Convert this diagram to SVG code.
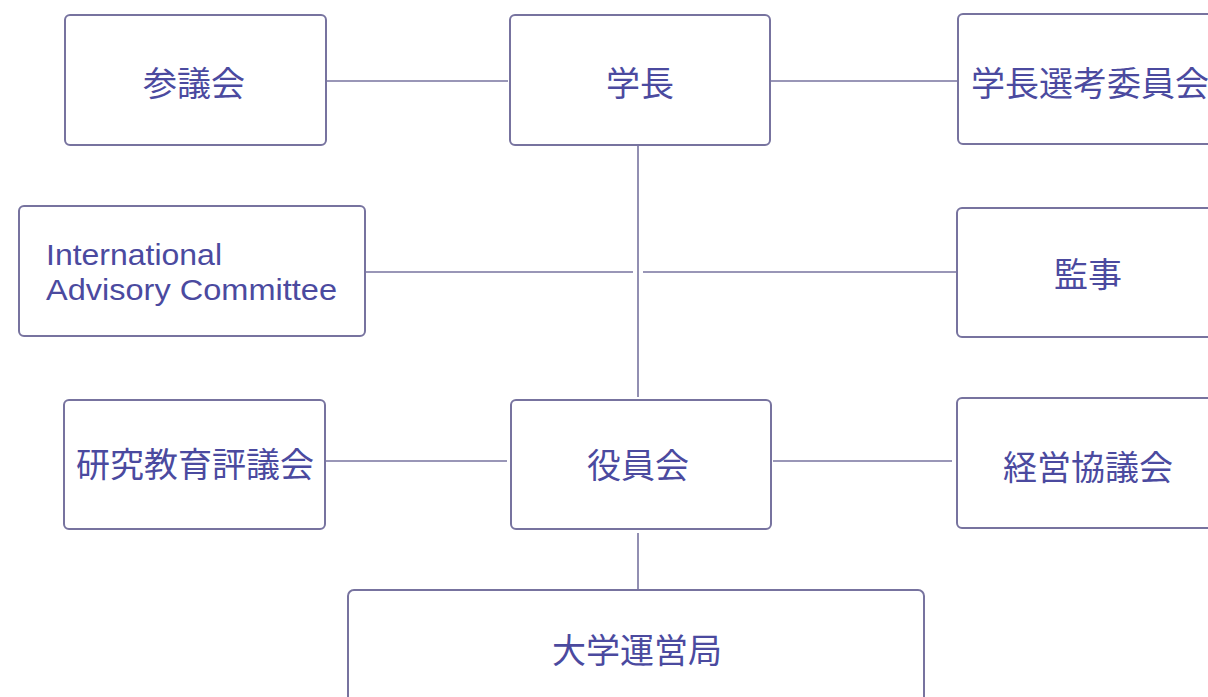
<svg xmlns="http://www.w3.org/2000/svg" width="1208" height="697" viewBox="0 0 1208 697">
<style>
.box{fill:#ffffff;stroke:#77739f;stroke-width:2}
.ln{stroke:#77739f;stroke-width:1.6;fill:none}
.jp{font-family:"Noto Sans CJK JP","Noto Sans",sans-serif;font-size:34px;fill:#4b4a9f;dominant-baseline:central}
.en{font-family:"Liberation Sans","Noto Sans",sans-serif;font-size:30px;fill:#4b4a9f}
</style>
<rect width="1208" height="697" fill="#ffffff"/>
<g id="connectors">
<line class="ln" x1="326" y1="81" x2="508" y2="81"/>
<line class="ln" x1="771" y1="81" x2="958" y2="81"/>
<line class="ln" x1="638" y1="145" x2="638" y2="397"/>
<line class="ln" x1="365" y1="272" x2="633" y2="272"/>
<line class="ln" x1="643" y1="272" x2="957" y2="272"/>
<line class="ln" x1="326" y1="461" x2="507" y2="461"/>
<line class="ln" x1="773" y1="461" x2="952" y2="461"/>
<line class="ln" x1="638" y1="533" x2="638" y2="590"/>
</g>
<g id="sangikai"><rect class="box" x="65" y="15" width="261" height="130" rx="5"/><text class="jp" x="194" y="81" text-anchor="middle">参議会</text></g>
<g id="gakucho"><rect class="box" x="510" y="15" width="260" height="130" rx="5"/><text class="jp" x="640" y="81" text-anchor="middle">学長</text></g>
<g id="senkou"><rect class="box" x="958" y="14" width="270" height="130" rx="5"/><text class="jp" x="971" y="81">学長選考委員会</text></g>
<g id="iac"><rect class="box" x="19" y="206" width="346" height="130" rx="5"/><text class="en" x="46" y="265" textLength="176" lengthAdjust="spacingAndGlyphs">International</text><text class="en" x="46" y="300" textLength="291" lengthAdjust="spacingAndGlyphs">Advisory Committee</text></g>
<g id="kanji"><rect class="box" x="957" y="208" width="270" height="129" rx="5"/><text class="jp" x="1088" y="272" text-anchor="middle">監事</text></g>
<g id="kenkyu"><rect class="box" x="64" y="400" width="261" height="129" rx="5"/><text class="jp" x="195" y="462" text-anchor="middle">研究教育評議会</text></g>
<g id="yakuin"><rect class="box" x="511" y="400" width="260" height="129" rx="5"/><text class="jp" x="638" y="463" text-anchor="middle">役員会</text></g>
<g id="keiei"><rect class="box" x="957" y="398" width="270" height="130" rx="5"/><text class="jp" x="1088" y="465" text-anchor="middle">経営協議会</text></g>
<g id="unei"><rect class="box" x="348" y="590" width="576" height="130" rx="6"/><text class="jp" x="637" y="648" text-anchor="middle">大学運営局</text></g>
</svg>
